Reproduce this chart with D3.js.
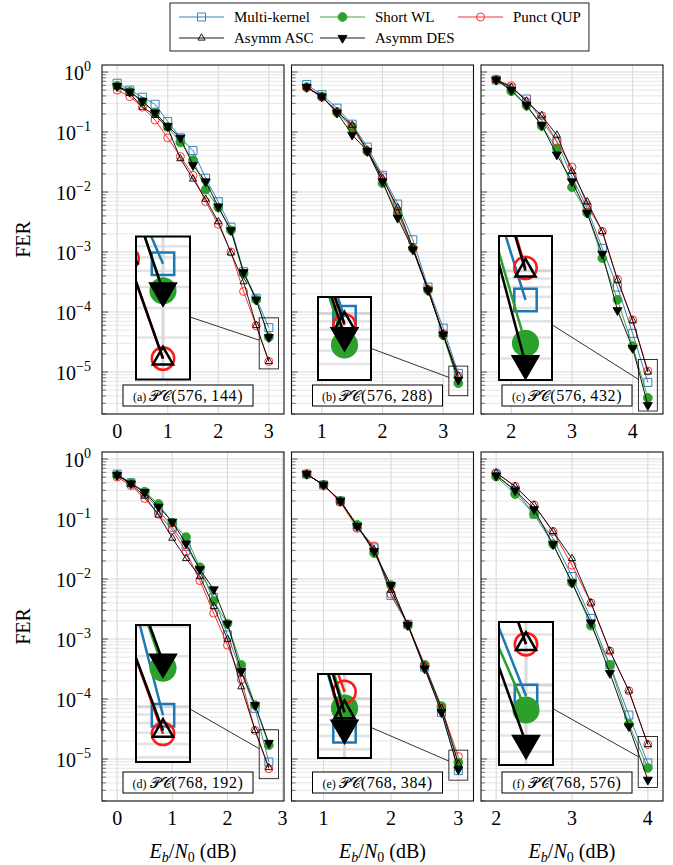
<!DOCTYPE html>
<html>
<head>
<meta charset="utf-8">
<script src="https://cdn.jsdelivr.net/npm/d3@7"></script>
<style>
body{margin:0;background:#fff}
text{font-family:"Liberation Serif","Times New Roman",serif;fill:#000}
</style>
</head>
<body>
<script>
var W = 673, H = 865;

// ---- data (FER vs Eb/N0) ----
var xA = [0,0.25,0.5,0.75,1,1.25,1.5,1.75,2,2.25,2.5,2.75,3];
var mkA = [0.65,0.5,0.38,0.29,0.15,0.08,0.049,0.017,0.0069,0.0026,4.7e-4,1.7e-4,5.5e-5];
var swA = [0.59,0.47,0.32,0.21,0.122,0.067,0.034,0.011,0.0055,0.0023,4.4e-4,1.6e-4,3.8e-5];
var quA = [0.5,0.39,0.26,0.158,0.08,0.039,0.019,0.0069,0.0029,1.0e-3,2.2e-4,5.9e-5,1.5e-5];
var ascA = [0.57,0.44,0.26,0.19,0.118,0.036,0.0165,0.0076,0.0032,9.7e-4,3.2e-4,6e-5,1.5e-5];
var desA = [0.58,0.47,0.33,0.21,0.125,0.08,0.028,0.015,0.0057,0.0023,4.6e-4,1.6e-4,3.8e-5];

var xB = [0.75,1,1.25,1.5,1.75,2,2.25,2.5,2.75,3,3.25];
var mkB = [0.62,0.42,0.25,0.135,0.056,0.019,0.0063,0.0016,2.6e-4,5.4e-5,9.5e-6];
var swB = [0.56,0.39,0.21,0.12,0.048,0.014,0.0044,0.00115,2.3e-4,4.1e-5,6.5e-6];
var quB = [0.55,0.38,0.22,0.125,0.047,0.018,0.0048,0.00115,2.4e-4,4.4e-5,8.5e-6];
var ascB = [0.56,0.39,0.22,0.13,0.05,0.017,0.0055,0.0012,2.4e-4,4.3e-5,8.7e-6];
var desB = [0.56,0.39,0.21,0.09,0.048,0.015,0.0037,0.0011,2.3e-4,4.2e-5,7.4e-6];

var xC = [1.75,2,2.25,2.5,2.75,3,3.25,3.5,3.75,4,4.25];
var mkC = [0.74,0.54,0.355,0.158,0.069,0.018,0.0053,0.00115,2.6e-4,4.4e-5,6.7e-6];
var swC = [0.74,0.48,0.275,0.126,0.053,0.012,0.0045,7.9e-4,1.6e-4,2.7e-5,3.7e-6];
var quC = [0.74,0.59,0.32,0.187,0.069,0.026,0.006,0.0022,3.5e-4,7.4e-5,1.04e-5];
var ascC = [0.74,0.56,0.33,0.187,0.089,0.022,0.0069,0.0022,3.4e-4,7.2e-5,1.0e-5];
var desC = [0.74,0.5,0.28,0.13,0.042,0.015,0.0045,9.3e-4,1.07e-4,2.5e-5,2.8e-6];

var xD = [0,0.25,0.5,0.75,1,1.25,1.5,1.75,2,2.25,2.5,2.75];
var mkD = [0.56,0.4,0.27,0.141,0.073,0.035,0.0145,0.0049,0.00117,2.8e-4,7e-5,8.9e-6];
var swD = [0.54,0.4,0.285,0.178,0.087,0.05,0.0157,0.0043,0.0018,3.7e-4,7.9e-5,1.7e-5];
var quD = [0.5,0.36,0.22,0.12,0.066,0.0285,0.0094,0.0027,7.9e-4,2.1e-4,3e-5,6.9e-6];
var ascD = [0.54,0.38,0.24,0.117,0.048,0.022,0.011,0.0035,9.9e-4,1.6e-4,3e-5,7.2e-6];
var desD = [0.54,0.39,0.28,0.16,0.09,0.039,0.0145,0.0067,0.0018,2.9e-4,7.9e-5,1.85e-5];

var xE = [0.75,1,1.25,1.5,1.75,2,2.25,2.5,2.75,3];
var mkE = [0.56,0.37,0.2,0.076,0.033,0.0053,0.00176,3.4e-4,6e-5,6.4e-6];
var swE = [0.56,0.37,0.2,0.08,0.027,0.0079,0.0017,3.7e-4,7.6e-5,8.8e-6];
var quE = [0.56,0.37,0.19,0.07,0.0355,0.0056,0.00176,3.7e-4,7e-5,1.1e-5];
var ascE = [0.56,0.37,0.2,0.076,0.031,0.0065,0.00176,3.5e-4,7e-5,8.3e-6];
var desE = [0.56,0.37,0.2,0.076,0.029,0.0079,0.0017,3.2e-4,6e-5,6.7e-6];

var xF = [2,2.25,2.5,2.75,3,3.25,3.5,3.75,4];
var mkF = [0.55,0.3,0.121,0.048,0.011,0.0022,3.7e-4,5.4e-5,8.6e-6];
var swF = [0.51,0.26,0.121,0.038,0.0087,0.00167,3.7e-4,3.8e-5,7.1e-6];
var quF = [0.59,0.35,0.171,0.062,0.017,0.004,6.3e-4,1.37e-4,1.75e-5];
var ascF = [0.59,0.35,0.171,0.062,0.022,0.004,6.3e-4,1.37e-4,1.75e-5];
var desF = [0.53,0.3,0.145,0.038,0.0087,0.00188,2.7e-4,3.5e-5,4.5e-6];

var seriesNames = ["Multi-kernel","Short WL","Punct QUP","Asymm ASC","Asymm DES"];
var seriesColors = ["#1f77b4","#2ca02c","#ff1a1a","#000000","#000000"];
var seriesMarks = ["square","dot","circle","tri","tridown"];
var yTickVals = [1,1e-1,1e-2,1e-3,1e-4,1e-5];
var yTickExp = ["0","\u22121","\u22122","\u22123","\u22124","\u22125"];
var panelTags = ["(a)","(b)","(c)","(d)","(e)","(f)"];
var panelCodes = ["(576,\u2009144)","(576,\u2009288)","(576,\u2009432)","(768,\u2009192)","(768,\u2009384)","(768,\u2009576)"];

// ---- layout ----
var colLeft = [102, 291.5, 481], rowTop = [65, 452];
var pw = 182, ph = 349, mag = 2.8;

var panels = [
  {x:xA, s:[mkA,swA,quA,ascA,desA], dom:[-0.3,3.3], ticks:[0,1,2,3], spy:[3,3.0e-5], ins:[61,243,54,143]},
  {x:xB, s:[mkB,swB,quB,ascB,desB], dom:[0.5,3.5], ticks:[1,2,3], spy:[3.25,7.1e-6], ins:[53,273.5,53,83]},
  {x:xC, s:[mkC,swC,quC,ascC,desC], dom:[1.5,4.5], ticks:[2,3,4], spy:[4.25,6.0e-6], ins:[44.5,243,53,144]},
  {x:xD, s:[mkD,swD,quD,ascD,desD], dom:[-0.275,3.025], ticks:[0,1,2,3], spy:[2.75,1.2e-5], ins:[61,241.5,54,137]},
  {x:xE, s:[mkE,swE,quE,ascE,desE], dom:[0.525,3.225], ticks:[1,2,3], spy:[3.0,7.9e-6], ins:[53,264,53,84]},
  {x:xF, s:[mkF,swF,quF,ascF,desF], dom:[1.8,4.2], ticks:[2,3,4], spy:[4.0,8.9e-6], ins:[45,241.5,54,143]}
];

var svg = d3.select("body").append("svg")
  .attr("width", W).attr("height", H).style("display","block");
svg.append("rect").attr("width", W).attr("height", H).attr("fill", "#fff");
var defs = svg.append("defs");

function markPath(type){
  if(type=="square") return "M-4,-4H4V4H-4Z";
  if(type=="dot") return d3.symbol(d3.symbolCircle, Math.PI*4.4*4.4)();
  if(type=="circle") return d3.symbol(d3.symbolCircle, Math.PI*4*4)();
  if(type=="tri") return "M0,-4.2L3.6,2.1L-3.6,2.1Z";
  return "M0,5.2L4.5,-2.6L-4.5,-2.6Z";
}

var y = d3.scaleLog().domain([Math.pow(10,-5.7), Math.pow(10,0.117)]).range([ph, 0]);

var minorVals = [];
for(var d=-6; d<=0; d++){
  for(var k=2; k<=9; k++){
    var v = k*Math.pow(10,d);
    if(v>y.domain()[0] && v<y.domain()[1]) minorVals.push(v);
  }
}

function drawContent(g, p, x){
  g.selectAll(".gmin").data(minorVals).enter().append("line")
    .attr("x1",0).attr("x2",pw).attr("y1",function(v){return y(v);}).attr("y2",function(v){return y(v);})
    .attr("stroke","#e3e3e3").attr("stroke-width",0.9);
  g.selectAll(".gmaj").data(yTickVals).enter().append("line")
    .attr("x1",0).attr("x2",pw).attr("y1",function(v){return y(v);}).attr("y2",function(v){return y(v);})
    .attr("stroke","#d6d6d6").attr("stroke-width",1.1);
  g.selectAll(".gx").data(p.ticks).enter().append("line")
    .attr("x1",function(v){return x(v);}).attr("x2",function(v){return x(v);})
    .attr("y1",0).attr("y2",ph)
    .attr("stroke","#dadada").attr("stroke-width",1.1);

  p.s.forEach(function(vals, k){
    var pts = vals.map(function(v,i){return {x:p.x[i], y:v};});
    var line = d3.line().x(function(d){return x(d.x);}).y(function(d){return y(d.y);});
    g.append("path").datum(pts).attr("d", line)
      .attr("fill","none").attr("stroke",seriesColors[k]).attr("stroke-width",0.9);
    var filled = (seriesMarks[k]=="dot" || seriesMarks[k]=="tridown");
    g.selectAll(".m"+k).data(pts).enter().append("path")
      .attr("d", markPath(seriesMarks[k]))
      .attr("transform", function(d){return "translate("+x(d.x)+","+y(d.y)+")";})
      .attr("fill", filled ? seriesColors[k] : "none")
      .attr("stroke", seriesColors[k]).attr("stroke-width", 0.9);
  });
}

function exitPoint(c, dir, hw, hh){
  var t = Math.min(dir[0]!=0 ? hw/Math.abs(dir[0]) : 1e9, dir[1]!=0 ? hh/Math.abs(dir[1]) : 1e9);
  return [c[0]+dir[0]*t, c[1]+dir[1]*t];
}

panels.forEach(function(p, i){
  var col = i%3, row = Math.floor(i/3);
  var x = d3.scaleLinear().domain(p.dom).range([0, pw]);
  var gp = svg.append("g").attr("transform","translate("+colLeft[col]+","+rowTop[row]+")");

  drawContent(gp.append("g"), p, x);

  // left ticks (inside)
  gp.selectAll(".tmin").data(minorVals).enter().append("line")
    .attr("x1",0).attr("x2",4).attr("y1",function(v){return y(v);}).attr("y2",function(v){return y(v);})
    .attr("stroke","#555").attr("stroke-width",0.8);
  gp.selectAll(".tmaj").data(yTickVals).enter().append("line")
    .attr("x1",0).attr("x2",6).attr("y1",function(v){return y(v);}).attr("y2",function(v){return y(v);})
    .attr("stroke","#444").attr("stroke-width",0.9);

  // spy: small rect, connection, magnified inset
  var sc = [x(p.spy[0]), y(p.spy[1])];
  var ic = [p.ins[0], p.ins[1]], iw = p.ins[2], ih = p.ins[3];
  var sw = iw/mag, sh = ih/mag;
  gp.append("rect").attr("x",sc[0]-sw/2).attr("y",sc[1]-sh/2).attr("width",sw).attr("height",sh)
    .attr("fill","none").attr("stroke","#000").attr("stroke-width",0.8);
  var dir = [sc[0]-ic[0], sc[1]-ic[1]];
  var a = exitPoint(ic, dir, iw/2, ih/2);
  var b = exitPoint(sc, [-dir[0],-dir[1]], sw/2, sh/2);
  gp.append("line").attr("x1",a[0]).attr("y1",a[1]).attr("x2",b[0]).attr("y2",b[1])
    .attr("stroke","#000").attr("stroke-width",0.8);

  defs.append("clipPath").attr("id","ins"+i).append("rect")
    .attr("x",ic[0]-iw/2).attr("y",ic[1]-ih/2).attr("width",iw).attr("height",ih);
  var ins = gp.append("g").attr("clip-path","url(#ins"+i+")");
  ins.append("rect").attr("x",ic[0]-iw/2).attr("y",ic[1]-ih/2).attr("width",iw).attr("height",ih).attr("fill","#fff");
  var inner = ins.append("g")
    .attr("transform","translate("+ic[0]+","+ic[1]+") scale("+mag+") translate("+(-sc[0])+","+(-sc[1])+")");
  drawContent(inner, p, x);
  gp.append("rect").attr("x",ic[0]-iw/2).attr("y",ic[1]-ih/2).attr("width",iw).attr("height",ih)
    .attr("fill","none").attr("stroke","#000").attr("stroke-width",2);

  // panel tag box
  var lb = gp.append("g").attr("transform","translate(21,320)");
  lb.append("rect").attr("width",130).attr("height",21)
    .attr("fill","#fff").attr("stroke","#000").attr("stroke-width",1);
  var lt = lb.append("text").attr("x",65).attr("y",15.5).attr("text-anchor","middle");
  lt.append("tspan").attr("font-size",12).text(panelTags[i]+" ");
  lt.append("tspan").attr("font-size",15).text("\uD835\uDCAB\uD835\uDC9E");
  lt.append("tspan").attr("font-size",16).attr("letter-spacing",0.6).text(panelCodes[i]);

  // frame
  gp.append("rect").attr("width",pw).attr("height",ph)
    .attr("fill","none").attr("stroke","#111").attr("stroke-width",1.1);

  // x tick labels
  gp.selectAll(".xl").data(p.ticks).enter().append("text")
    .attr("x",function(v){return x(v);}).attr("y",ph+24)
    .attr("text-anchor","middle").attr("font-size",20).text(function(v){return v;});

  if(col==0){
    yTickVals.forEach(function(v, k){
      var t = gp.append("text").attr("x",-11).attr("y",y(v)+8).attr("text-anchor","end").attr("font-size",20);
      t.append("tspan").text("10");
      t.append("tspan").attr("font-size",14).attr("dy",-9).text(yTickExp[k]);
    });
    gp.append("text").attr("transform","translate(-72,"+(ph/2)+") rotate(-90)")
      .attr("text-anchor","middle").attr("font-size",20).text("FER");
  }
  if(row==1){
    var xt = gp.append("text").attr("x",pw/2).attr("y",406).attr("text-anchor","middle").attr("font-size",20);
    xt.append("tspan").attr("font-style","italic").text("E");
    xt.append("tspan").attr("font-style","italic").attr("font-size",14).attr("dy",4).text("b");
    xt.append("tspan").attr("dy",-4).text("/");
    xt.append("tspan").attr("font-style","italic").text("N");
    xt.append("tspan").attr("font-size",14).attr("dy",4).text("0");
    xt.append("tspan").attr("dy",-4).text(" (dB)");
  }
});

// ---- legend ----
var leg = svg.append("g");
var legBox = leg.append("rect").attr("x",170).attr("y",3).attr("height",48)
  .attr("fill","#fff").attr("stroke","#222").attr("stroke-width",1);
var colX = [179, 320, 458], rowY = [17, 38];
var maxRight = 0;
seriesNames.forEach(function(name, k){
  var cx = colX[k%3], cy = rowY[Math.floor(k/3)];
  leg.append("line").attr("x1",cx).attr("x2",cx+45).attr("y1",cy).attr("y2",cy)
    .attr("stroke",seriesColors[k]).attr("stroke-width",0.9);
  var filled = (seriesMarks[k]=="dot" || seriesMarks[k]=="tridown");
  leg.append("path").attr("d",markPath(seriesMarks[k]))
    .attr("transform","translate("+(cx+22.5)+","+cy+")")
    .attr("fill", filled ? seriesColors[k] : "none")
    .attr("stroke",seriesColors[k]).attr("stroke-width",0.9);
  var t = leg.append("text").attr("x",cx+55).attr("y",cy+5).attr("font-size",15).text(name);
  var bb = t.node().getBBox();
  maxRight = Math.max(maxRight, bb.x+bb.width);
});
legBox.attr("width", maxRight + 8 - 170);
</script>
</body>
</html>
